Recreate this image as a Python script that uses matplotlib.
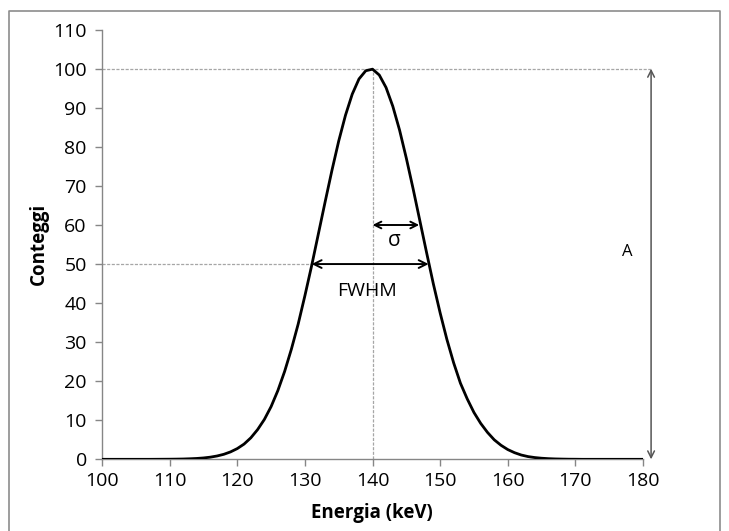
import matplotlib
matplotlib.use("Agg")
import matplotlib.pyplot as plt
from matplotlib.lines import Line2D

# energy (keV) and counts
energia = list(range(100, 181))
conteggi = [0, 0, 0, 0, 0, 0, 0, 0, 0.01, 0.02,
            0.03, 0.05, 0.08, 0.14, 0.22, 0.35, 0.55, 0.85, 1.28, 1.9,
            2.75, 3.9, 5.5, 7.6, 10.2, 13.5, 17.6, 22.5, 28.2, 34.6,
            41.9, 49.6, 57.8, 66.0, 74.0, 81.5, 88.1, 93.5, 97.4, 99.5,
            99.9, 98.4, 95.2, 90.4, 84.3, 77.1, 69.3, 61.1, 52.9, 44.9,
            37.5, 30.7, 24.7, 19.5, 15.5, 12.0, 9.2, 6.9, 5.0, 3.6,
            2.5, 1.7, 1.1, 0.7, 0.45, 0.28, 0.17, 0.1, 0.06, 0.03,
            0.02, 0, 0, 0, 0, 0, 0, 0, 0, 0, 0]

x_ticks = list(range(100, 181, 10))
y_ticks = list(range(0, 111, 10))

# annotation values
picco = 140
ampiezza = 100
fwhm_sx, fwhm_dx = 131, 148.3
sigma_sx, sigma_dx, sigma_y = 140, 146.9, 60
x_a = 181.2

plt.rcParams['font.family'] = ['Open Sans', 'DejaVu Sans']

fig = plt.figure(figsize=(7.29, 5.31), dpi=100)
ax = fig.add_axes([0.14, 0.135, 0.742, 0.809])

grigio = '#868686'
tratteggio = '#a6a6a6'

# dashed guide lines
ax.plot([100, x_a], [ampiezza, ampiezza], color=tratteggio, lw=0.9,
        dashes=(2.5, 1.2), clip_on=False, zorder=1)
ax.plot([100, fwhm_sx], [50, 50], color=tratteggio, lw=0.9,
        dashes=(2.5, 1.2), zorder=1)
ax.plot([picco, picco], [0, ampiezza], color=tratteggio, lw=0.9,
        dashes=(2.5, 1.2), zorder=1)

ax.plot(energia, conteggi, color='black', lw=2, zorder=3)

# arrows
ax.annotate('', xy=(fwhm_dx, 50), xytext=(fwhm_sx, 50),
            arrowprops=dict(arrowstyle='<->', color='black', lw=1.4,
                            shrinkA=0, shrinkB=0, mutation_scale=14))
ax.annotate('', xy=(sigma_dx, sigma_y), xytext=(sigma_sx, sigma_y),
            arrowprops=dict(arrowstyle='<->', color='black', lw=1.4,
                            shrinkA=0, shrinkB=0, mutation_scale=12))
ax.annotate('', xy=(x_a, 0), xytext=(x_a, ampiezza),
            arrowprops=dict(arrowstyle='<->', color='#555555', lw=1.1,
                            shrinkA=0, shrinkB=0, mutation_scale=12),
            annotation_clip=False)

ax.text(143.2, 56.0, 'σ', fontsize=15, ha='center', va='center')
ax.text(139.2, 43.2, 'FWHM', fontsize=14, ha='center', va='center')
ax.text(177.7, 53, 'A', fontsize=12, ha='center', va='center')

ax.set_xlim(100, 180)
ax.set_ylim(0, 110)
ax.set_xticks(x_ticks)
ax.set_yticks(y_ticks)

for s in ['top', 'right']:
    ax.spines[s].set_visible(False)
for s in ['left', 'bottom']:
    ax.spines[s].set_color(grigio)
    ax.spines[s].set_linewidth(1)

ax.tick_params(axis='both', direction='out', length=5, width=1,
               color=grigio, labelsize=14, labelcolor='black')
ax.tick_params(axis='y', pad=6)
ax.tick_params(axis='x', pad=4)

fig.text(0.054, 0.541, 'Conteggi', rotation=90, fontsize=13.5,
         fontweight='bold', ha='center', va='center')
fig.text(0.51, 0.034, 'Energia (keV)', fontsize=13.5,
         fontweight='bold', ha='center', va='center')

# outer chart border
bordo = Line2D([9 / 729, 9 / 729, 720 / 729, 720 / 729],
               [0, 1 - 11 / 531, 1 - 11 / 531, 0],
               transform=fig.transFigure, color='#8c8c8c', lw=1.2)
fig.add_artist(bordo)

fig.savefig('out.png', dpi=100)
